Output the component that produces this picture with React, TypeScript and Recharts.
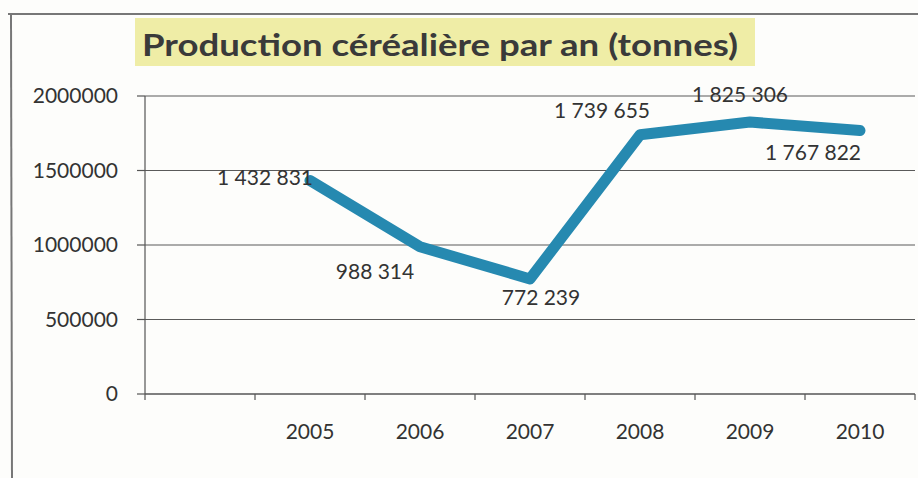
import { LineChart, Line, XAxis, YAxis, CartesianGrid, LabelList } from "recharts";

const YEARS = ["", "2005", "2006", "2007", "2008", "2009", "2010"];
const PRODUCTION: (number | null)[] = [null, 1432831, 988314, 772239, 1739655, 1825306, 1767822];
const Y_TICKS = [0, 500000, 1000000, 1500000, 2000000];

// manual label placement (dx, dy) relative to each point, like the hand-moved Excel labels
const LABEL_OFFSETS: [number, number][] = [
  [0, 0],
  [-45, -4],
  [-45, 24],
  [11, 18],
  [-38, -25],
  [-10, -29],
  [-47, 21],
];

const FONT = "Lato, 'Open Sans', sans-serif";
const TEXT = "#333333";
const LINE = "#2689b0";

const data = YEARS.map((year, i) => ({ year, value: PRODUCTION[i] }));

const fmtSpaces = (v: number) => String(v).replace(/\B(?=(\d{3})+(?!\d))/g, " ");

const YearTick = (props: any) => {
  const { x, y, payload, index } = props;
  return (
    <g>
      <line x1={x - 55} y1={y} x2={x - 55} y2={y + 6} stroke="#555" strokeWidth={1.2} />
      {index === YEARS.length - 1 && (
        <line x1={x + 55} y1={y} x2={x + 55} y2={y + 6} stroke="#555" strokeWidth={1.2} />
      )}
      <text x={x} y={y + 45} textAnchor="middle" fontFamily={FONT} fontSize={21} fill={TEXT}>
        {payload.value}
      </text>
    </g>
  );
};

const PointLabel = (props: any) => {
  const { x, y, value, index } = props;
  if (value == null) return null;
  const [dx, dy] = LABEL_OFFSETS[index] || [0, 0];
  return (
    <text
      x={x + dx}
      y={y + dy}
      textAnchor="middle"
      dominantBaseline="central"
      fontFamily={FONT}
      fontSize={21}
      fill={TEXT}
    >
      {fmtSpaces(value)}
    </text>
  );
};

export default function App() {
  return (
    <div style={{ position: "absolute", left: 0, top: 0, width: 918, height: 478, background: "#fdfdfb" }}>
      <svg width={918} height={478} style={{ position: "absolute", left: 0, top: 0 }}>
        <line x1={8} y1={14} x2={918} y2={14} stroke="#777" strokeWidth={2} />
        <line x1={11} y1={14} x2={12} y2={478} stroke="#777" strokeWidth={2} />
        <rect x={135} y={18} width={620} height={48} fill="#efeda6" />
        <text
          x={142}
          y={56}
          fontFamily={FONT}
          fontWeight="bold"
          fontSize={31}
          fill="#3a3a3a"
          textLength={596}
          lengthAdjust="spacingAndGlyphs"
        >
          Production céréalière par an (tonnes)
        </text>
      </svg>
      <div style={{ position: "absolute", left: 0, top: 0 }}>
        <LineChart width={918} height={478} data={data} margin={{ top: 96, right: 3, bottom: 0, left: 0 }}>
          <CartesianGrid vertical={false} stroke="#5a5a5a" strokeWidth={1.2} />
          <XAxis
            dataKey="year"
            height={84}
            padding={{ left: 55, right: 55 }}
            tickSize={0}
            tickMargin={0}
            interval={0}
            axisLine={{ stroke: "#555", strokeWidth: 1.2 }}
            tickLine={false}
            tick={<YearTick />}
          />
          <YAxis
            width={145}
            domain={[0, 2000000]}
            ticks={Y_TICKS}
            interval={0}
            tickSize={8}
            tickMargin={19}
            axisLine={{ stroke: "#555", strokeWidth: 1.2 }}
            tickLine={{ stroke: "#555", strokeWidth: 1.2 }}
            tick={{ fontFamily: FONT, fontSize: 21, fill: TEXT }}
          />
          <Line
            type="linear"
            dataKey="value"
            stroke={LINE}
            strokeWidth={11}
            strokeLinejoin="round"
            strokeLinecap="round"
            dot={false}
            activeDot={false}
            isAnimationActive={false}
          >
            <LabelList dataKey="value" content={<PointLabel />} />
          </Line>
        </LineChart>
      </div>
    </div>
  );
}
